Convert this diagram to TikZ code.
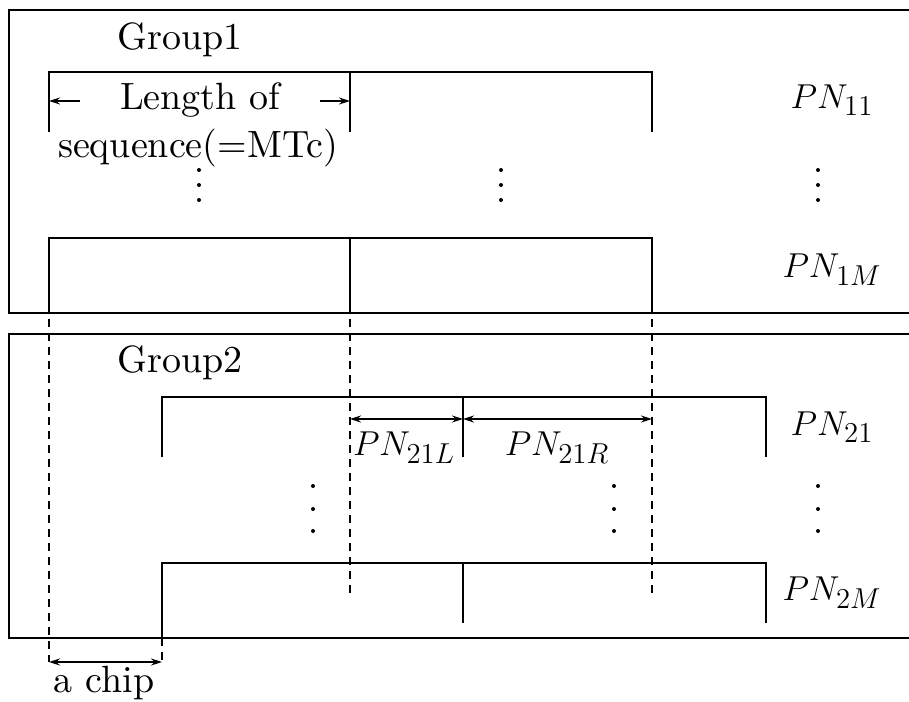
\documentclass[tikz,border=0pt]{standalone}
\usepackage{amsmath}
\usepackage{graphicx}
\usetikzlibrary{arrows.meta}

% plain text at 10pt, blown up
\newcommand{\seqlabel}[1]{\scalebox{1.9}{#1}}

\begin{document}
\begin{tikzpicture}[x=0.5pt, y=-0.5pt,
    txt/.style={font=\normalsize, inner sep=0pt},
    sym/.style={font=\fontsize{19}{23}\selectfont, inner sep=0pt},
    grp/.style={line width=1pt},
    seq/.style={line width=0.6pt},
    guide/.style={line width=0.6pt, dash pattern=on 4pt off 3pt},
    dim/.style={line width=0.6pt, -{Stealth[length=5.5pt, width=3.5pt]}},
    ddim/.style={line width=0.6pt, {Stealth[length=5.5pt, width=3.5pt]}-{Stealth[length=5.5pt, width=3.5pt]}}]

    \useasboundingbox (0,0) rectangle (909,701);

    % group frames, open on the right
    \draw[grp] (909,10) -- (9,10) -- (9,313) -- (909,313);
    \draw[grp] (909,334) -- (9,334) -- (9,638) -- (909,638);

    % group 1 sequences
    \draw[seq] (49,132) -- (49,72) -- (652,72) -- (652,132);
    \draw[seq] (350,72) -- (350,132);
    \draw[seq] (49,305) -- (49,238) -- (652,238) -- (652,305);
    \draw[seq] (350,238) -- (350,305);

    % group 2 sequences, shifted by one chip
    \draw[seq] (162,457) -- (162,397) -- (766,397) -- (766,457);
    \draw[seq] (463,397) -- (463,457);
    \draw[seq] (162,638) -- (162,563) -- (766,563) -- (766,623);
    \draw[seq] (463,563) -- (463,623);

    % alignment guides
    \coordinate (g0) at (49,305);
    \coordinate (g1) at (350,305);
    \coordinate (g2) at (652,305);
    \coordinate (c0) at (49,662);
    \coordinate (c1) at (162,662);
    \draw[guide] (g0) -- (c0);
    \draw[guide] (g1) -- (350,593);
    \draw[guide] (g2) -- (652,593);
    \draw[guide] (162,638) -- (c1);

    % labels
    \node[txt] at (180,40)  (group1) {\seqlabel{Group1}};
    \node[txt] at (200,100) (len)    {\seqlabel{Length of}};
    \node[txt] at (198,148) (seqtxt) {\seqlabel{sequence(=MTc)}};
    \node[sym] at (832,100) (pn11)   {$PN_{11}$};
    \node[sym] at (832,270) (pn1m)   {$PN_{1M}$};
    \node[txt] at (180,363) (group2) {\seqlabel{Group2}};
    \node[sym] at (832,427) (pn21)   {$PN_{21}$};
    \node[sym] at (832,593) (pn2m)   {$PN_{2M}$};
    \node[sym] at (404,448) (pn21l)  {$PN_{21L}$};
    \node[sym] at (557,448) (pn21r)  {$PN_{21R}$};
    \node[txt] at (104,683) (chip)   {\seqlabel{a chip}};

    % length arrows
    \coordinate (la) at (80,101);
    \coordinate (lb) at (49,101);
    \coordinate (ra) at (320,101);
    \coordinate (rb) at (350,101);
    \draw[dim] (la) -- (lb);
    \draw[dim] (ra) -- (rb);

    \coordinate (h0) at (350,419);
    \coordinate (h1) at (463,419);
    \coordinate (h2) at (652,419);
    \draw[ddim] (h0) -- (h1);
    \draw[ddim] (h1) -- (h2);

    \draw[ddim] (c0) -- (c1);

    % vertical dots
    \foreach \x in {199,501,818}
        \foreach \y in {170,185,200}
            \fill (\x,\y) circle (1pt);
    \foreach \x in {313,614,818}
        \foreach \y in {486,509,531}
            \fill (\x,\y) circle (1pt);
\end{tikzpicture}
\end{document}
